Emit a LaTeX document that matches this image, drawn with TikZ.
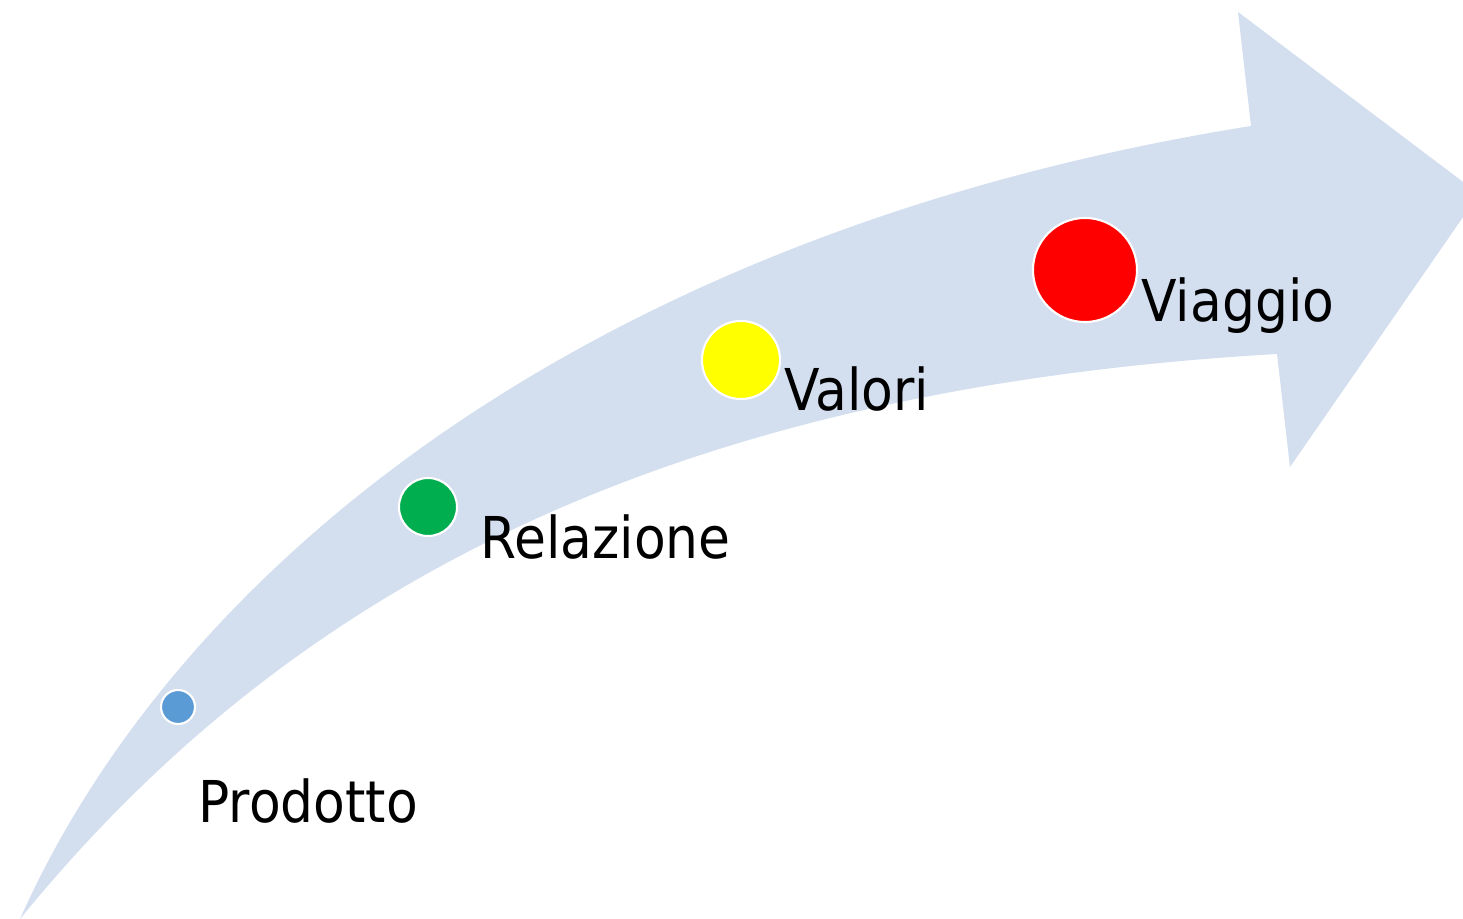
\documentclass[tikz,border=0pt]{standalone}
\usepackage{fontspec}
\setmainfont{DejaVu Sans Condensed}
\definecolor{bandblue}{HTML}{D3DEEF}
\definecolor{dotblue}{HTML}{5B9BD5}
\definecolor{dotgreen}{HTML}{00AE4F}
\definecolor{dotyellow}{HTML}{FFFF00}
\definecolor{dotred}{HTML}{FF0000}

\begin{document}
\begin{tikzpicture}[x=0.01cm,y=-0.01cm,
  dot/.style={circle,draw=white,line width=0.6pt,inner sep=0pt},
  lbl/.style={anchor=base west,inner sep=0pt,font=\fontsize{16.4}{20}\selectfont}]
\useasboundingbox (0,0) rectangle (1463,919);

% curved arrow
\begin{scope}
\clip (0,0) rectangle (1463,919);
\fill[bandblue] (20,919) .. controls (180,560) and (600,230) .. (1251,126)
  -- (1238,12) -- (1479,194) -- (1290,467) -- (1277,354)
  .. controls (650,390) and (280,600) .. (20,919) -- cycle;
\end{scope}

% steps
\node[dot,fill=dotblue,minimum size=0.34cm]   (prodotto)  at (178,707) {};
\node[dot,fill=dotgreen,minimum size=0.58cm]  (relazione) at (428,507) {};
\node[dot,fill=dotyellow,minimum size=0.78cm] (valori)    at (741,360) {};
\node[dot,fill=dotred,minimum size=1.04cm]    (viaggio)   at (1085,270) {};

\node[lbl] (prodottolbl)  at (198,823) {Prodotto};
\node[lbl] (relazionelbl) at (480,559) {Relazione};
\node[lbl] (valorilbl)    at (784,411) {Valori};
\node[lbl] (viaggiolbl)   at (1141,322) {Viaggio};

\end{tikzpicture}
\end{document}
